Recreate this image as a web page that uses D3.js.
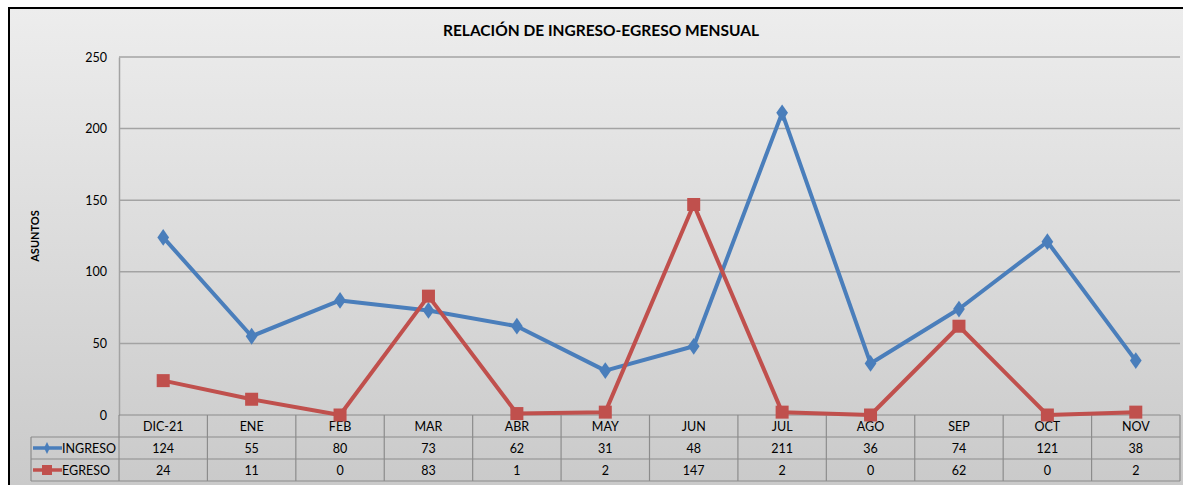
<!DOCTYPE html>
<html>
<head>
<meta charset="utf-8">
<script src="https://cdn.jsdelivr.net/npm/d3@7"></script>
<style>
  body { margin: 0; background: #fff; }
  text { font-family: Lato, "Open Sans", sans-serif; fill: #000; }
</style>
</head>
<body>
<svg id="chart" width="1183" height="485"></svg>
<script>
// Chart data
var months = ["DIC-21", "ENE", "FEB", "MAR", "ABR", "MAY", "JUN", "JUL", "AGO", "SEP", "OCT", "NOV"];
var ingreso = [124, 55, 80, 73, 62, 31, 48, 211, 36, 74, 121, 38];
var egreso = [24, 11, 0, 83, 1, 2, 147, 2, 0, 62, 0, 2];
var yTicks = [0, 50, 100, 150, 200, 250];
var seriesNames = ["INGRESO", "EGRESO"];

var blue = "#4a7ebb", red = "#c0504d";

var svg = d3.select("#chart");

// Background gradient
var grad = svg.append("defs")
  .append("linearGradient")
    .attr("id", "bg")
    .attr("x1", "0%").attr("y1", "0%")
    .attr("x2", "0%").attr("y2", "100%");
grad.append("stop").attr("offset", "0%").attr("stop-color", "#ededed");
grad.append("stop").attr("offset", "100%").attr("stop-color", "#c9c9c9");

svg.append("rect")
  .attr("x", 9).attr("y", 8)
  .attr("width", 1183).attr("height", 490)
  .style("fill", "url(#bg)")
  .style("stroke", "#000")
  .style("stroke-width", 2);

// Scales
var x = d3.scaleBand().domain(months).range([119, 1180]);
var y = d3.scaleLinear().domain([0, 250]).range([415, 57]);
var cx = function(i) { return x(months[i]) + x.bandwidth() / 2; };

// Title and axis label
svg.append("text")
  .attr("x", 601).attr("y", 36)
  .attr("text-anchor", "middle")
  .style("font-weight", "bold")
  .style("font-size", "15.5px")
  .text("RELACIÓN DE INGRESO-EGRESO MENSUAL");

svg.append("text")
  .attr("transform", "translate(39,236) rotate(-90)")
  .attr("text-anchor", "middle")
  .style("font-weight", "bold")
  .style("font-size", "11px")
  .text("ASUNTOS");

// Gridlines
svg.append("g")
  .selectAll("line")
  .data(yTicks.slice(1))
  .enter()
  .append("line")
    .attr("x1", 119).attr("x2", 1180)
    .attr("y1", function(d) { return y(d); })
    .attr("y2", function(d) { return y(d); })
    .style("stroke", "#a3a3a3")
    .style("stroke-width", 1.5);

// Y axis
var yAxis = d3.axisLeft(y).tickValues(yTicks).tickSize(0).tickPadding(12);
var gy = svg.append("g")
  .attr("transform", "translate(119,0)")
  .call(yAxis);
gy.select(".domain").style("stroke", "#a3a3a3").style("stroke-width", 1.5);
gy.selectAll("text")
  .style("font-size", "12.5px")
  .style("font-family", "Lato, 'Open Sans', sans-serif");

// Data table
var rowTop = [415, 437, 459, 481];
var tableColor = "#8c8c8c";
var table = svg.append("g").style("stroke", tableColor).style("stroke-width", 1.2);

table.append("line").attr("x1", 119).attr("x2", 1180).attr("y1", 415).attr("y2", 415);
rowTop.slice(1).forEach(function(ry) {
  table.append("line").attr("x1", 31).attr("x2", 1180).attr("y1", ry).attr("y2", ry);
});
months.forEach(function(m) {
  table.append("line")
    .attr("x1", x(m)).attr("x2", x(m))
    .attr("y1", 415).attr("y2", 481);
});
table.append("line").attr("x1", 1180).attr("x2", 1180).attr("y1", 415).attr("y2", 481);
table.append("line").attr("x1", 31).attr("x2", 31).attr("y1", 437).attr("y2", 481);

svg.append("g")
  .selectAll("text")
  .data(months)
  .enter()
  .append("text")
    .attr("x", function(d, i) { return cx(i); })
    .attr("y", 431)
    .attr("text-anchor", "middle")
    .style("font-size", "12.5px")
    .text(function(d) { return d; });

[ingreso, egreso].forEach(function(vals, k) {
  svg.append("g")
    .selectAll("text")
    .data(vals)
    .enter()
    .append("text")
      .attr("x", function(d, i) { return cx(i); })
      .attr("y", 453 + k * 22)
      .attr("text-anchor", "middle")
      .style("font-size", "12.5px")
      .text(function(d) { return d; });
});

// Legend keys in the table
var keyColors = [blue, red];
seriesNames.forEach(function(name, k) {
  var ky = 448 + k * 22;
  svg.append("line")
    .attr("x1", 33).attr("x2", 62).attr("y1", ky).attr("y2", ky)
    .style("stroke", keyColors[k]).style("stroke-width", 3.5);
  if (k === 0) {
    svg.append("path")
      .attr("d", d3.symbol().type(d3.symbolDiamond).size(30)())
      .attr("transform", "translate(47," + ky + ") scale(1,1.2)")
      .style("fill", blue);
  } else {
    svg.append("rect")
      .attr("x", 42).attr("y", ky - 5).attr("width", 10).attr("height", 10)
      .style("fill", red);
  }
  svg.append("text")
    .attr("x", 62).attr("y", ky + 5)
    .style("font-size", "12.5px")
    .text(name);
});

// Lines
var line = d3.line()
  .x(function(d, i) { return cx(i); })
  .y(function(d) { return y(d); });

svg.append("path")
  .datum(ingreso)
  .attr("d", line)
  .style("fill", "none")
  .style("stroke", blue)
  .style("stroke-width", 4)
  .style("stroke-linejoin", "round");

svg.append("g")
  .selectAll("path")
  .data(ingreso)
  .enter()
  .append("path")
    .attr("d", d3.symbol().type(d3.symbolDiamond).size(90)())
    .attr("transform", function(d, i) { return "translate(" + cx(i) + "," + y(d) + ") scale(1.15,0.95)"; })
    .style("fill", blue);

svg.append("path")
  .datum(egreso)
  .attr("d", line)
  .style("fill", "none")
  .style("stroke", red)
  .style("stroke-width", 4)
  .style("stroke-linejoin", "round");

svg.append("g")
  .selectAll("rect")
  .data(egreso)
  .enter()
  .append("rect")
    .attr("x", function(d, i) { return cx(i) - 6.5; })
    .attr("y", function(d) { return y(d) - 6.5; })
    .attr("width", 13).attr("height", 13)
    .style("fill", red);
</script>
</body>
</html>
